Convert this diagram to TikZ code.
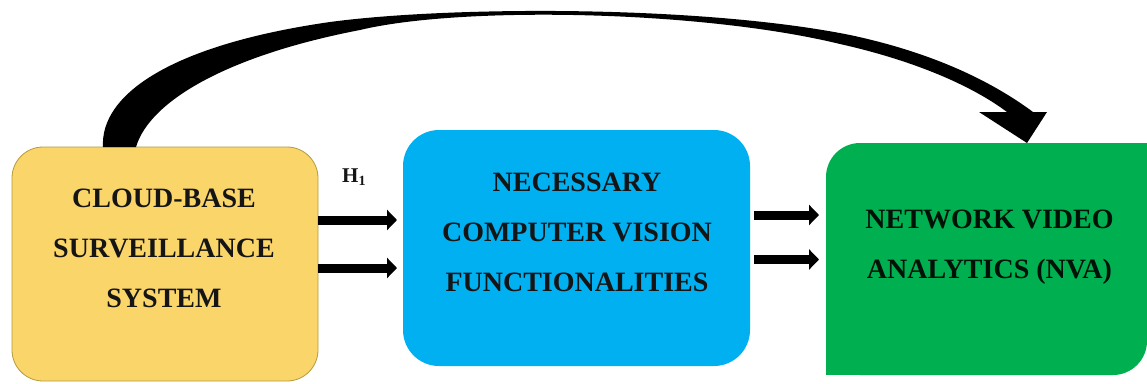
\documentclass[tikz,border=0pt]{standalone}
\usepackage{fontspec}
\setmainfont{Liberation Serif}
\usetikzlibrary{arrows.meta,calc}
\definecolor{cbsfill}{HTML}{F9D56A}
\definecolor{cbsedge}{HTML}{B59A3C}
\definecolor{ncvfill}{HTML}{00B0F0}
\definecolor{nvafill}{HTML}{00B050}
\definecolor{txt}{HTML}{151515}
\tikzset{
  box/.style={rectangle, inner sep=0pt, outer sep=0pt},
  lbl/.style={font=\bfseries\fontsize{28}{50}\selectfont, align=center, text=txt, inner sep=0pt},
  flow/.style={line width=9pt, -{Triangle[length=10pt,width=20pt]}},
}
\begin{document}
\begin{tikzpicture}[x=1pt,y=-1pt]
\useasboundingbox (0,0) rectangle (1147,383);
% boxes
\node[box, fill=cbsfill, draw=cbsedge, line width=0.8pt, rounded corners=31pt,
      minimum width=306pt, minimum height=234pt] (cbs) at (165,264) {};
\node[box, fill=ncvfill, rounded corners=36pt,
      minimum width=347pt, minimum height=236pt] (ncv) at (576.5,248) {};
\node[box, fill=nvafill, rounded corners=34pt,
      minimum width=321pt, minimum height=232pt] (nva) at (986.5,259) {};
\fill[nvafill] (nva.south west) rectangle ++(40,-40);
\fill[nvafill] (nva.north east) rectangle ++(-40,40);
% texts
\node[lbl] (cbst) at (164,248) {CLOUD-BASE\\SURVEILLANCE\\SYSTEM};
\node[lbl] (ncvt) at (577,232.5) {NECESSARY\\COMPUTER VISION\\FUNCTIONALITIES};
\node[lbl, text=black!90!nvafill] (nvat) at (989.5,247) {NETWORK VIDEO\\ANALYTICS (NVA)};
\node[font=\bfseries\fontsize{21}{21}\selectfont, text=txt, anchor=base west, inner sep=0pt]
      (h1) at (342,182) {H\raisebox{-3pt}{\fontsize{14}{14}\selectfont 1}};
% small arrows
\coordinate (p1) at ($(cbs.east)+(0,-44)$);
\coordinate (p2) at ($(cbs.east)+(0,4)$);
\coordinate (q1) at ($(ncv.east)+(0,-33)$);
\coordinate (q2) at ($(ncv.east)+(0,11.5)$);
\draw[flow, shorten >=6pt] (p1) -- (p1 -| ncv.west);
\draw[flow, shorten >=6pt] (p2) -- (p2 -| ncv.west);
\draw[flow, shorten <=4pt, shorten >=7pt] (q1) -- (q1 -| nva.west);
\draw[flow, shorten <=4pt, shorten >=7pt] (q2) -- (q2 -| nva.west);
% big curved arrow
\coordinate (a0) at ($(cbs.north)+(-62,0)$);
\coordinate (a1) at ($(cbs.north)+(-29,0)$);
\coordinate (tip) at ($(nva.north)+(40.5,0)$);
\fill[black] (a0) .. controls (100,95) and (170,45) .. (330,22)
  .. controls (450,6) and (700,5) .. (850,35)
  .. controls (930,52) and (990,80) .. (1033,112)
  -- (1047,112) -- (tip) -- (979,112) -- (1007,112)
  .. controls (975,88) and (920,62) .. (840,44)
  .. controls (700,10) and (460,6) .. (360,30)
  .. controls (230,55) and (150,100) .. (a1) -- cycle;
\end{tikzpicture}
\end{document}
